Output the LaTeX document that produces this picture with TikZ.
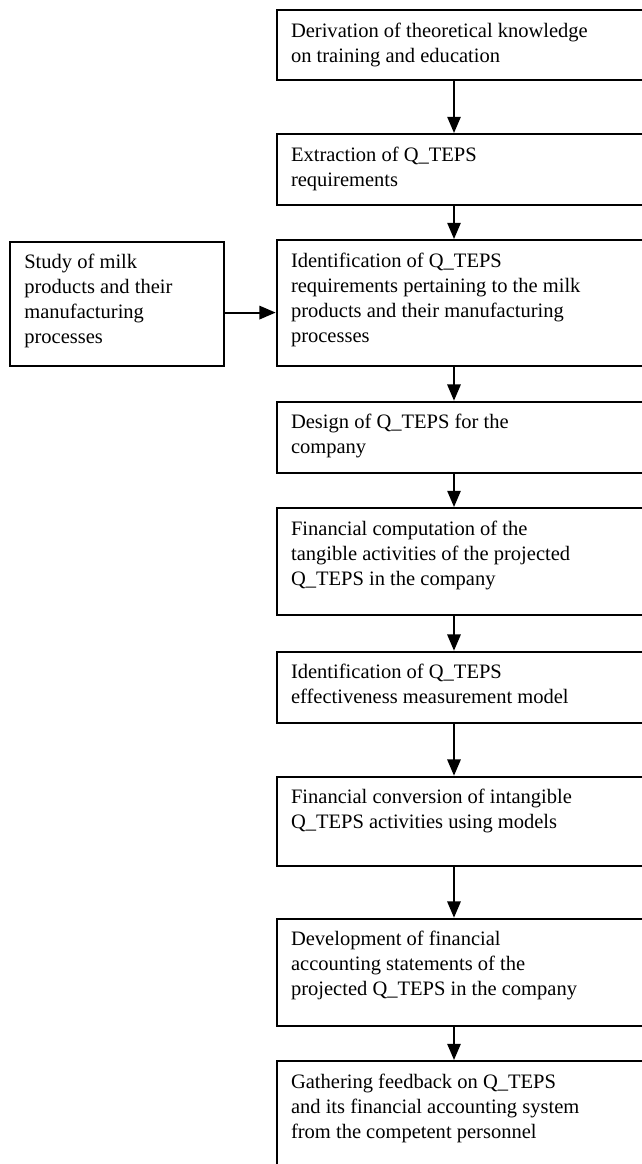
\documentclass[tikz,border=0pt]{standalone}
\usepackage{fontspec}
\setmainfont{Liberation Serif}
\usetikzlibrary{arrows.meta,calc,positioning}
\newlength\pxu
\setlength\pxu{0.585pt}

\begin{document}
\begin{tikzpicture}[x=\pxu, y=-\pxu,
  stage/.style={draw, line width=1.1pt, anchor=north west, inner sep=0pt, minimum width=384.3*\pxu},
  note/.style={anchor=north west, inner sep=0pt, align=left, font=\fontsize{12}{14.6}\selectfont},
  flow/.style={line width=1.1pt, -{Triangle[length=9.5pt,width=7.8pt]}}]
\useasboundingbox (0,0) rectangle (641,1164);
\coordinate (spine) at (454,0);
\node[stage, minimum height=70*\pxu] (b1) at (275.7,9) {};
\node[note] (t1) at ([xshift=15*\pxu, yshift=-13.5*\pxu]b1.north west) {Derivation of theoretical knowledge\\on training and education};
\node[stage, minimum height=71*\pxu] (b2) at (275.7,133) {};
\node[note] (t2) at ([xshift=15*\pxu, yshift=-13.5*\pxu]b2.north west) {Extraction of Q\_TEPS\\requirements};
\node[stage, minimum height=126*\pxu] (b3) at (275.7,239) {};
\node[note] (t3) at ([xshift=15*\pxu, yshift=-13.5*\pxu]b3.north west) {Identification of Q\_TEPS\\requirements pertaining to the milk\\products and their manufacturing\\processes};
\node[stage, minimum width=213.7*\pxu, minimum height=124.3*\pxu] (milk) at (9,240.7) {};
\node[note] (tm) at ([xshift=15*\pxu, yshift=-13.5*\pxu]milk.north west) {Study of milk\\products and their\\manufacturing\\processes};
\node[stage, minimum height=71*\pxu] (b4) at (275.7,400.7) {};
\node[note] (t4) at ([xshift=15*\pxu, yshift=-13.5*\pxu]b4.north west) {Design of Q\_TEPS for the\\company};
\node[stage, minimum height=107*\pxu] (b5) at (275.7,507) {};
\node[note] (t5) at ([xshift=15*\pxu, yshift=-13.5*\pxu]b5.north west) {Financial computation of the\\tangible activities of the projected\\Q\_TEPS in the company};
\node[stage, minimum height=71*\pxu] (b6) at (275.7,650.7) {};
\node[note] (t6) at ([xshift=15*\pxu, yshift=-13.5*\pxu]b6.north west) {Identification of Q\_TEPS\\effectiveness measurement model};
\node[stage, minimum height=89.3*\pxu] (b7) at (275.7,775.7) {};
\node[note] (t7) at ([xshift=15*\pxu, yshift=-13.5*\pxu]b7.north west) {Financial conversion of intangible\\Q\_TEPS activities using models};
\node[stage, minimum height=107.3*\pxu] (b8) at (275.7,917.7) {};
\node[note] (t8) at ([xshift=15*\pxu, yshift=-13.5*\pxu]b8.north west) {Development of financial\\accounting statements of the\\projected Q\_TEPS in the company};
\node[stage, minimum height=130*\pxu] (b9) at (275.7,1060) {};
\node[note] (t9) at ([xshift=15*\pxu, yshift=-13.5*\pxu]b9.north west) {Gathering feedback on Q\_TEPS\\and its financial accounting system\\from the competent personnel};
\draw[flow] (b1.south -| spine) -- (b2.north -| spine);
\draw[flow] (b2.south -| spine) -- (b3.north -| spine);
\draw[flow] ([yshift=-8.8*\pxu]milk.east) -- ([yshift=-8.8*\pxu]milk.east -| b3.west);
\draw[flow] (b3.south -| spine) -- (b4.north -| spine);
\draw[flow] (b4.south -| spine) -- (b5.north -| spine);
\draw[flow] (b5.south -| spine) -- (b6.north -| spine);
\draw[flow] (b6.south -| spine) -- (b7.north -| spine);
\draw[flow] (b7.south -| spine) -- (b8.north -| spine);
\draw[flow] (b8.south -| spine) -- (b9.north -| spine);
\end{tikzpicture}
\end{document}
